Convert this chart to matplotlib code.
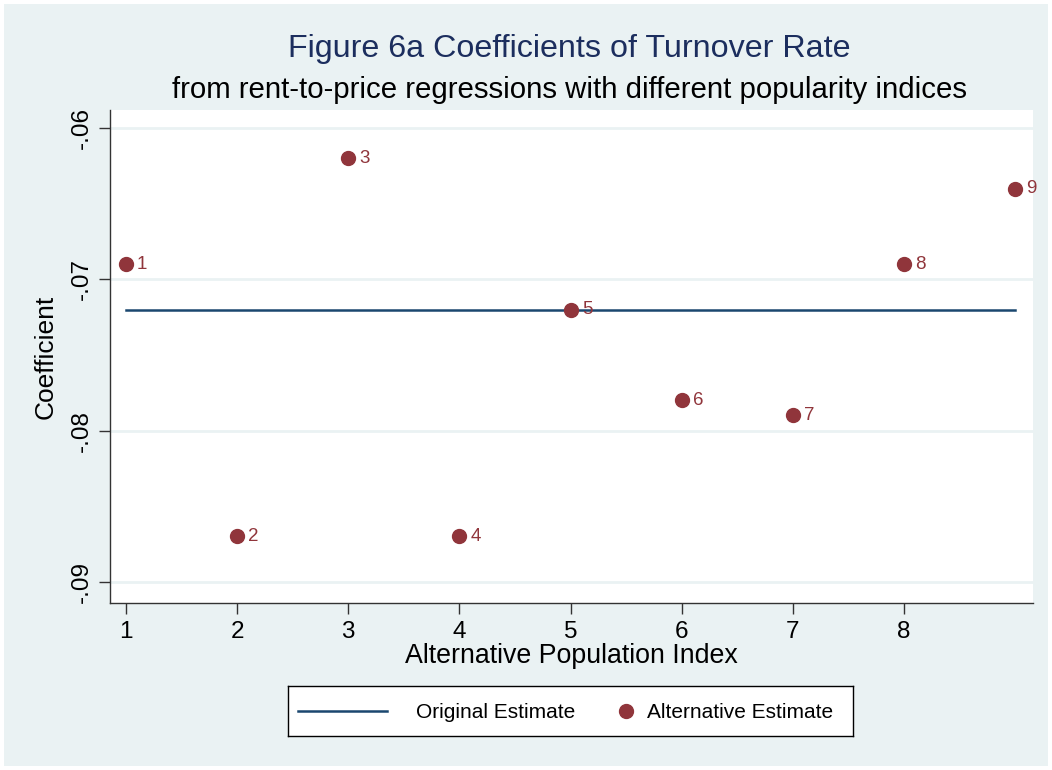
import matplotlib
matplotlib.use("Agg")
import matplotlib.pyplot as plt
from matplotlib.lines import Line2D
from matplotlib.patches import Rectangle

# data
index = [1, 2, 3, 4, 5, 6, 7, 8, 9]
alt_coef = [-0.069, -0.087, -0.062, -0.087, -0.072, -0.078, -0.079, -0.069, -0.064]
orig_coef = -0.072
xticks = [1, 2, 3, 4, 5, 6, 7, 8]
yticks = [-0.06, -0.07, -0.08, -0.09]
ytick_labels = ["-.06", "-.07", "-.08", "-.09"]

bg = "#EAF2F3"
navy = "#1A476F"
maroon = "#90353B"

plt.rcParams["font.family"] = ["Liberation Sans", "DejaVu Sans"]

W, H = 1052, 770
fig = plt.figure(figsize=(W / 100, H / 100), dpi=100, facecolor="white")


def px(x, y, w, h):
    # pixel box (top-left origin) -> figure fraction
    return [x / W, 1 - (y + h) / H, w / W, h / H]


# light panel behind everything (Stata s2color look)
fig.patches.append(Rectangle((4 / W, 4 / H), 1 - 8 / W, 1 - 8 / H,
                             transform=fig.transFigure, facecolor=bg,
                             edgecolor="none", zorder=-10))

ax = fig.add_axes(px(110, 110, 923, 493))
ax.set_facecolor("white")

ax.plot([index[0], index[-1]], [orig_coef, orig_coef], color=navy, lw=1.8, zorder=3)
ax.plot(index, alt_coef, "o", color=maroon, ms=10, zorder=4)
for x, y in zip(index, alt_coef):
    ax.annotate(str(x), (x, y), xytext=(8, 0), textcoords="offset points",
                va="center", ha="left", color=maroon, fontsize=13.5)

ax.set_xlim(0.856, 9.16)
ax.set_ylim(-0.0914, -0.0588)
ax.set_xticks(xticks)
ax.set_yticks(yticks)
ax.set_yticklabels(ytick_labels, rotation=90, va="center")
ax.grid(axis="y", color=bg, lw=2)
ax.set_axisbelow(True)

for s in ["top", "right"]:
    ax.spines[s].set_visible(False)
for s in ["left", "bottom"]:
    ax.spines[s].set_color("#333333")
    ax.spines[s].set_linewidth(1.0)
ax.tick_params(length=8, width=1.0, color="#333333", labelsize=17.5)
ax.tick_params(axis="x", pad=5)
ax.tick_params(axis="y", pad=4)

ax.set_xlabel("Alternative Population Index", fontsize=19.3, labelpad=0)
ax.set_ylabel("Coefficient", fontsize=19, labelpad=10)

cx = 569 / W
fig.text(cx, 1 - 49 / H, "Figure 6a Coefficients of Turnover Rate",
         ha="center", va="center", fontsize=23.2, color="#1C2E5E")
fig.text(cx, 1 - 90 / H, "from rent-to-price regressions with different popularity indices",
         ha="center", va="center", fontsize=21.2, color="black")

# legend box drawn by hand so the marker sits next to its label as in Stata
lax = fig.add_axes(px(288, 686, 565, 50))
lax.set_xlim(288, 853)
lax.set_ylim(736, 686)
lax.set_xticks([])
lax.set_yticks([])
lax.set_facecolor("white")
for s in lax.spines.values():
    s.set_color("black")
    s.set_linewidth(1.0)
lax.add_line(Line2D([298, 387], [711, 711], color=navy, lw=1.8))
lax.text(416, 712, "Original Estimate", va="center", ha="left", fontsize=15)
lax.add_line(Line2D([626], [711], marker="o", ls="none", color=maroon, ms=10))
lax.text(647, 712, "Alternative Estimate", va="center", ha="left", fontsize=15)

fig.savefig("out.png", dpi=100, facecolor="white")
